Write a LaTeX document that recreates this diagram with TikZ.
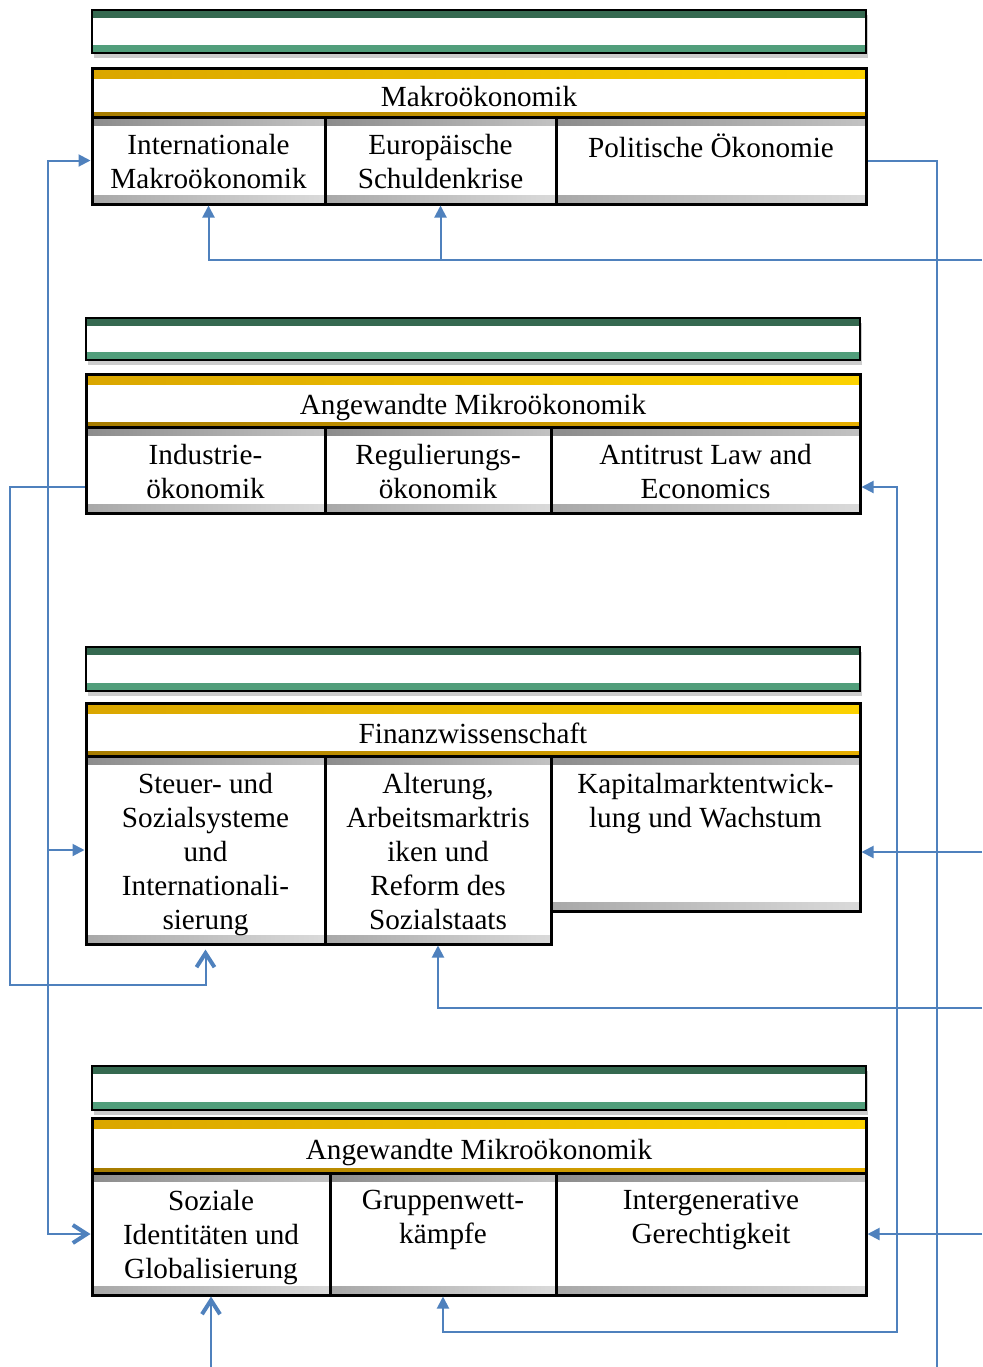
\documentclass[tikz,border=0pt]{standalone}
\usepackage{fontspec}
\setmainfont{Liberation Serif}
\usetikzlibrary{fit,shadows,arrows.meta}

\definecolor{darkgreen}{HTML}{356950}
\definecolor{lightgreen}{HTML}{519E7B}
\definecolor{goldA}{HTML}{DAA600}
\definecolor{goldB}{HTML}{FCD200}
\definecolor{goldC}{HTML}{A57B00}
\definecolor{goldD}{HTML}{E6AE00}
\definecolor{grayA}{HTML}{8C8C8C}
\definecolor{grayB}{HTML}{C2C2C2}
\definecolor{grayC}{HTML}{A8A8A8}
\definecolor{grayD}{HTML}{DADADA}
\definecolor{linkblue}{HTML}{4F81BD}

\begin{document}
\begin{tikzpicture}[x=0.5pt, y=-0.5pt,
  header/.style = {draw, line width=0.6pt, fill=white, inner sep=0pt,
    drop shadow = {shadow xshift=1pt, shadow yshift=-2.5pt, opacity=0.4},
    path picture = {
      \fill[darkgreen] (path picture bounding box.north west) rectangle ([yshift=-4pt]path picture bounding box.north east);
      \fill[lightgreen] (path picture bounding box.south west) rectangle ([yshift=4pt]path picture bounding box.south east);
    }},
  titlebox/.style = {draw, line width=1.5pt, fill=white, inner sep=0pt,
    path picture = {
      \shade[left color=goldA, right color=goldB] (path picture bounding box.north west) rectangle ([yshift=-5pt]path picture bounding box.north east);
      \shade[left color=goldC, right color=goldD] (path picture bounding box.south west) rectangle ([yshift=2.5pt]path picture bounding box.south east);
    }},
  subbox/.style = {draw, line width=1.5pt, fill=white, inner sep=0pt,
    path picture = {
      \shade[left color=grayA, right color=grayB] (path picture bounding box.north west) rectangle ([yshift=-4.25pt]path picture bounding box.north east);
      \shade[left color=grayC, right color=grayD] (path picture bounding box.south west) rectangle ([yshift=4.25pt]path picture bounding box.south east);
    }},
  ttl/.style = {anchor=base, inner sep=0pt, font=\fontsize{14.6}{17}\selectfont},
  lbl/.style = {anchor=north, align=center, inner sep=0pt, font=\fontsize{14.6}{17}\selectfont},
  flow/.style = {draw=linkblue, line width=1pt},
  tipfill/.style = {-{Triangle[length=6pt, width=6pt]}},
  tipopen/.style = {-{Straight Barb[length=7pt, width=9pt, line width=2pt]}}]
\useasboundingbox (0,0) rectangle (982,1367);

% green bars
\foreach \n/\xa/\ya/\xb/\yb in {h1/92/10/866/53, h2/86/318/860/360, h3/86/647/860/691, h4/92/1066/866/1110}
	\node[header, fit={(\xa,\ya) (\xb,\yb)}] (\n) {};

% titles
\foreach \n/\xa/\ya/\xb/\yb/\txt in {t1/92/68/866/117/Makroökonomik, t2/86/374/860/427/Angewandte Mikroökonomik, t3/86/703/860/756/Finanzwissenschaft, t4/92/1118/866/1173/Angewandte Mikroökonomik} {
	\node[titlebox, fit={(\xa,\ya) (\xb,\yb)}] (\n) {};
	\node[ttl] (\n-txt) at ([yshift=-7pt]\n.center) {\txt};
}

% topics
\foreach \n/\xa/\ya/\xb/\yb/\txt in {
	im/92/117/325/204/{Internationale\\Makroökonomik},
	es/325/117/556/204/{Europäische\\Schuldenkrise},
	po/556/117/866/204/{Politische Ökonomie},
	io/86/427/325/513/{Industrie-\\ökonomik},
	ro/325/427/551/513/{Regulierungs-\\ökonomik},
	al/551/427/860/513/{Antitrust Law and\\Economics},
	ss/86/756/325/944/{Steuer- und\\Sozialsysteme\\und\\Internationali-\\sierung},
	as/325/756/551/944/{Alterung,\\Arbeitsmarktris\\iken und\\Reform des\\Sozialstaats},
	kw/551/756/860/911/{Kapitalmarktentwick-\\lung und Wachstum},
	si/92/1173/330/1295/{Soziale\\Identitäten und\\Globalisierung},
	gw/330/1173/556/1295/{Gruppenwett-\\kämpfe},
	ig/556/1173/866/1295/{Intergenerative\\Gerechtigkeit}} {
	\node[subbox, fit={(\xa,\ya) (\xb,\yb)}] (\n) {};
	\node[lbl] (\n-txt) at ([yshift=-9pt]\n.north) {\txt};
}

% links
\coordinate (e1) at (982,260);
\coordinate (e2) at (937,1367);
\coordinate (e3) at (982,852);
\coordinate (e4) at (982,1008);
\coordinate (e5) at (982,1235);
\coordinate (e6) at (211,1367);
\coordinate (c1) at (48,0);
\coordinate (c2) at (10,985);
\coordinate (c3) at (897,1332);

\draw[flow, tipfill] (e1) -| (im.south);
\draw[flow, tipfill] (es.south |- e1) -- (es.south);
\draw[flow] (po.east) -| (e2);
\draw[flow, {Triangle[length=6pt, width=6pt]}-{Straight Barb[length=7pt, width=9pt, line width=2pt]}] (im.west) -- (im.west -| c1) -- (si.west -| c1) -- (si.west);
\draw[flow, tipfill] (ss.west -| c1) -- (ss.west);
\draw[flow, tipopen, shorten >=2pt] ([yshift=-8.5pt]io.west) -| (c2) -| (ss.south);
\draw[flow, {Triangle[length=6pt, width=6pt]}-{Triangle[length=6pt, width=6pt]}] ([yshift=-8.5pt]al.east) -| (c3) -| (gw.south);
\draw[flow, tipfill] (e3) -- (e3 -| kw.east);
\draw[flow, tipfill] (e4) -| (as.south);
\draw[flow, tipfill] (ig.east -| e5) -- (ig.east);
\draw[flow, tipopen] (si.south |- e6) -- (si.south);
\end{tikzpicture}
\end{document}
